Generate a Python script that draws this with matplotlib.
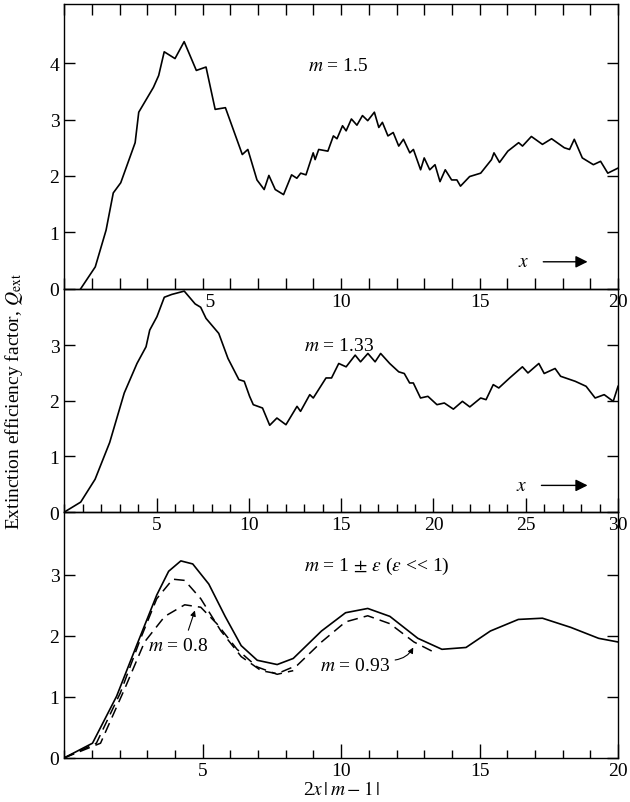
import matplotlib
matplotlib.use("Agg")
import matplotlib.pyplot as plt
from matplotlib.ticker import MultipleLocator

plt.rcParams["font.family"] = ["Liberation Serif", "DejaVu Serif"]
plt.rcParams["mathtext.fontset"] = "stix"

# m = 1.5 (top panel, abscissa x)
x15 = [0.59, 1.12, 1.51, 1.77, 2.04, 2.56, 2.69, 3.22, 3.41, 3.61, 4.0, 4.33, 4.77, 5.12,
       5.45, 5.82, 6.43, 6.63, 6.96, 7.22, 7.39, 7.62, 7.92, 8.21, 8.40, 8.54, 8.73, 8.99,
       9.06, 9.19, 9.52, 9.72, 9.85, 10.05, 10.18, 10.37, 10.57, 10.77, 10.96, 11.2, 11.36,
       11.49, 11.69, 11.88, 12.08, 12.25, 12.48, 12.61, 12.87, 13.0, 13.2, 13.39, 13.57,
       13.76, 13.99, 14.18, 14.31, 14.64, 15.04, 15.43, 15.52, 15.72, 16.02, 16.41, 16.55,
       16.87, 17.27, 17.6, 18.06, 18.25, 18.42, 18.71, 19.11, 19.37, 19.63, 20.0]
q15 = [0.0, 0.39, 1.04, 1.70, 1.88, 2.59, 3.13, 3.57, 3.78, 4.20, 4.08, 4.38, 3.87, 3.93,
       3.18, 3.21, 2.38, 2.47, 1.93, 1.76, 2.01, 1.76, 1.67, 2.02, 1.96, 2.05, 2.02, 2.41,
       2.29, 2.47, 2.44, 2.71, 2.66, 2.89, 2.80, 3.01, 2.90, 3.07, 2.98, 3.13, 2.86, 2.95,
       2.71, 2.77, 2.53, 2.65, 2.41, 2.47, 2.11, 2.32, 2.11, 2.20, 1.90, 2.11, 1.93, 1.93,
       1.82, 1.99, 2.05, 2.29, 2.41, 2.24, 2.44, 2.59, 2.53, 2.70, 2.56, 2.66, 2.50, 2.47,
       2.65, 2.32, 2.20, 2.26, 2.05, 2.14]

# m = 1.33 (middle panel, abscissa x)
x133 = [0.0, 0.89, 1.67, 2.46, 3.25, 3.94, 4.43, 4.63, 5.02, 5.42, 5.82, 6.5, 7.09, 7.39,
        7.68, 8.37, 8.87, 9.46, 9.75, 10.04, 10.24, 10.74, 11.13, 11.52, 12.01, 12.61, 12.8,
        13.3, 13.49, 14.18, 14.48, 14.87, 15.27, 15.76, 16.05, 16.45, 16.84, 17.14, 17.63,
        18.12, 18.42, 18.71, 18.91, 19.3, 19.7, 20.19, 20.59, 21.08, 21.57, 21.97, 22.56,
        22.85, 23.24, 23.54, 24.13, 24.82, 25.12, 25.71, 26.0, 26.59, 26.89, 27.68, 28.27,
        28.76, 29.25, 29.74, 30.0]
q133 = [0.0, 0.18, 0.59, 1.25, 2.14, 2.67, 2.97, 3.27, 3.51, 3.86, 3.91, 3.97, 3.74, 3.68,
        3.48, 3.21, 2.76, 2.38, 2.35, 2.08, 1.93, 1.87, 1.56, 1.69, 1.57, 1.90, 1.81, 2.11,
        2.05, 2.41, 2.41, 2.67, 2.61, 2.82, 2.70, 2.85, 2.70, 2.85, 2.67, 2.52, 2.49, 2.32,
        2.32, 2.05, 2.08, 1.93, 1.96, 1.85, 1.99, 1.89, 2.05, 2.02, 2.29, 2.23, 2.41, 2.61,
        2.50, 2.67, 2.49, 2.58, 2.44, 2.35, 2.26, 2.05, 2.11, 1.99, 2.26]

# m = 1 +/- eps (bottom panel, abscissa 2x|m-1|)
p_eps = [0.0, 1.02, 1.89, 2.61, 3.34, 3.77, 4.21, 4.64, 5.22, 5.81, 6.39, 6.97, 7.69, 8.27,
         9.29, 10.16, 10.96, 11.76, 12.77, 13.64, 14.51, 15.39, 16.4, 17.27, 18.29, 19.3, 20.0]
q_eps = [0.0, 0.24, 1.01, 1.84, 2.67, 3.06, 3.23, 3.18, 2.85, 2.32, 1.84, 1.60, 1.53, 1.63,
         2.08, 2.38, 2.45, 2.32, 1.96, 1.78, 1.81, 2.08, 2.27, 2.29, 2.14, 1.96, 1.90]
p_093 = [0.0, 1.16, 2.03, 2.76, 3.34, 3.92, 4.35, 4.93, 5.66, 6.39, 7.11, 7.69, 8.42, 9.29,
         10.16, 10.96, 11.76, 12.63, 13.28]
q_093 = [0.0, 0.24, 1.07, 1.96, 2.61, 2.93, 2.91, 2.61, 2.08, 1.66, 1.43, 1.38, 1.52, 1.90,
         2.23, 2.33, 2.20, 1.90, 1.75]
p_08 = [0.0, 1.31, 2.18, 2.9, 3.63, 4.35, 4.93, 5.51, 6.24, 6.97, 7.69, 8.27]
q_08 = [0.0, 0.24, 1.13, 1.90, 2.32, 2.51, 2.47, 2.20, 1.78, 1.49, 1.37, 1.43]

fig = plt.figure(figsize=(6.3, 8.03), dpi=100)
left, width = 0.102, 0.879
ax3 = fig.add_axes([left, 0.055, width, 0.306])
ax2 = fig.add_axes([left, 0.361, width, 0.278])
ax1 = fig.add_axes([left, 0.639, width, 0.355])
for ax in (ax1, ax2, ax3):
    ax.set_facecolor("none")

fs = 14
for ax in (ax1, ax2, ax3):
    ax.tick_params(direction="in", which="both", labelsize=fs, right=True, length=8, width=1)
    ax.tick_params(which="minor", length=6)
    ax.yaxis.set_major_locator(MultipleLocator(1))
    ax.xaxis.set_minor_locator(MultipleLocator(1))
    for s in ax.spines.values():
        s.set_linewidth(1)

ax1.plot(x15, q15, color="black", lw=1.2)
ax1.set_xlim(0, 20)
ax1.set_ylim(0, 5.05)
ax1.tick_params(which="both", top=True, length=8)
ax1.tick_params(axis="x", pad=3)
ax1.set_xticks([5, 10, 15, 20])
ax1.set_xticklabels(["   5", "10", "15", "20"])
ax1.set_yticks([0, 1, 2, 3, 4])
ax1.text(9.9, 3.96, r"$m$ = 1.5", ha="center", va="center", fontsize=fs)
ax1.text(16.6, 0.48, r"$x$", ha="center", va="center", fontsize=fs)
ax1.annotate("", xy=(19.0, 0.48), xytext=(17.2, 0.48),
             arrowprops=dict(arrowstyle="-|>", color="black", lw=1, mutation_scale=18))

ax2.plot(x133, q133, color="black", lw=1.2)
ax2.set_xlim(0, 30)
ax2.set_ylim(0, 4.01)
ax2.set_xticks([5, 10, 15, 20, 25, 30])
ax2.tick_params(axis="x", which="major", length=10, pad=3)
ax2.set_yticks([0, 1, 2, 3])
ax2.text(14.9, 3.0, r"$m$ = 1.33", ha="center", va="center", fontsize=fs)
ax2.text(24.8, 0.48, r"$x$", ha="center", va="center", fontsize=fs)
ax2.annotate("", xy=(28.5, 0.48), xytext=(25.7, 0.48),
             arrowprops=dict(arrowstyle="-|>", color="black", lw=1, mutation_scale=18))

ax3.plot(p_eps, q_eps, color="black", lw=1.2)
ax3.plot(p_093, q_093, color="black", lw=1.1, ls=(0, (7, 4)))
ax3.plot(p_08, q_08, color="black", lw=1.1, ls=(0, (7, 4)))
ax3.set_xlim(0, 20)
ax3.set_ylim(0, 4.03)
ax3.tick_params(axis="x", which="major", length=10, pad=3)
ax3.set_yticks([0, 1, 2, 3])
ax3.set_xticks([5, 10, 15, 20])
ax3.text(11.3, 3.15, r"$m$ = 1 $\pm$ $\varepsilon$ ($\varepsilon$ << 1)", ha="center",
         va="center", fontsize=fs)
ax3.text(4.1, 1.84, r"$m$ = 0.8", ha="center", va="center", fontsize=fs)
ax3.annotate("", xy=(4.75, 2.46), xytext=(4.45, 2.05),
             arrowprops=dict(arrowstyle="-|>", color="black", lw=0.8, mutation_scale=8))
ax3.text(10.5, 1.51, r"$m$ = 0.93", ha="center", va="center", fontsize=fs)
ax3.annotate("", xy=(12.65, 1.85), xytext=(11.85, 1.6),
             arrowprops=dict(arrowstyle="-|>", color="black", lw=0.8, mutation_scale=8,
                             connectionstyle="arc3,rad=0.3"))
ax3.set_xlabel(r"2$x$$\,|\,m - 1\,|$", fontsize=fs, labelpad=1)

fig.text(0.022, 0.5, r"Extinction efficiency factor, $Q_{\rm ext}$", rotation=90,
         ha="center", va="center", fontsize=fs)

fig.savefig("out.png", dpi=100)
